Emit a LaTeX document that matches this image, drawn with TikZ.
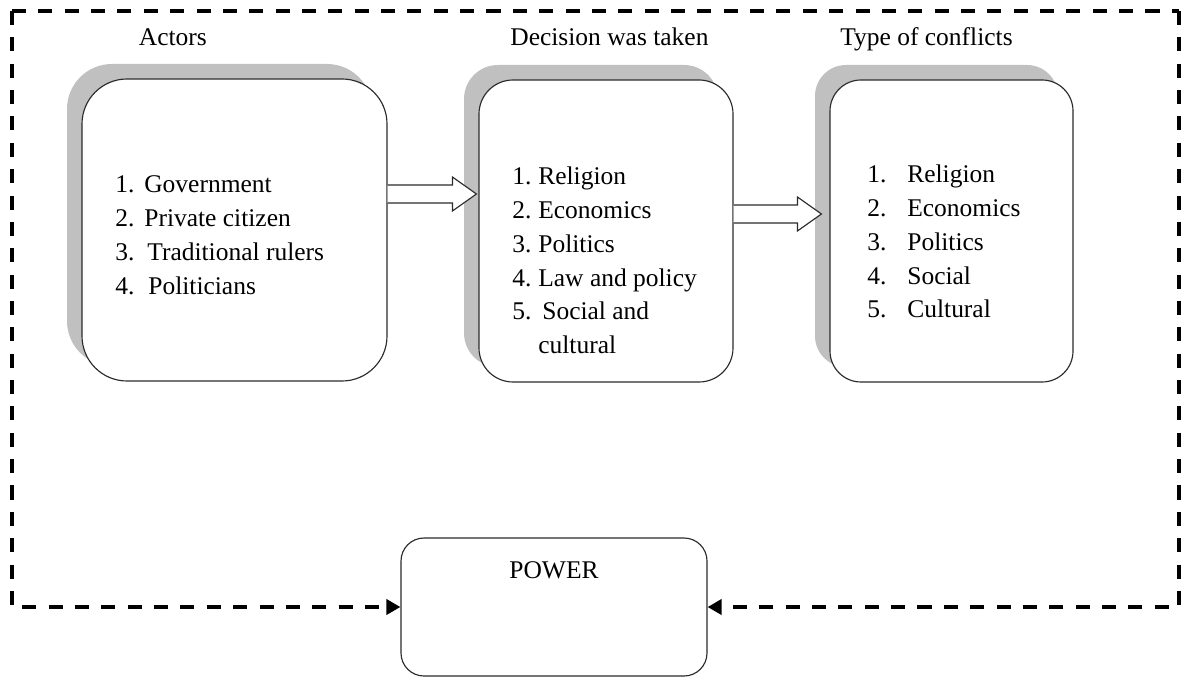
\documentclass[tikz,border=0pt]{standalone}
\usepackage{fontspec}
\setmainfont{Liberation Serif}
\usepackage{xcolor}
\definecolor{traitBoite}{HTML}{2B2B2B}
\definecolor{ombreBoite}{HTML}{C0C0C0}
\usetikzlibrary{arrows.meta, positioning, calc, shadows}

%% number of a list item, set in a column of fixed width
\newcommand{\rang}[2]{\makebox[#1][l]{#2}}
%% hollow block arrow between two coordinates
\newcommand{\flecheCreuse}[2]{%
  \draw[flecheBloc] ($(#1)+(0,0.18)$) -- ($(#2)+(-0.48,0.18)$) -- ++(0,0.16)
    -- (#2) -- ($(#2)+(-0.48,-0.34)$) -- ++(0,0.16) -- ($(#1)+(0,-0.18)$);}

\tikzset{
  %% ── Boxes ──
  boite/.style      = {draw=traitBoite, line width=0.65pt, fill=white,
                       inner sep=0pt},
  boiteOmbre/.style = {boite, drop shadow={shadow xshift=-0.3cm,
                       shadow yshift=0.3cm, fill=ombreBoite, opacity=1}},
  %% ── Arrows ──
  flecheBloc/.style = {draw=traitBoite, line width=0.65pt, fill=white,
                       line join=miter},
  cadre/.style      = {draw=black, line width=2.2pt,
                       dash pattern=on 8pt off 7pt},
  cadreFleche/.style = {cadre, -{Triangle[length=2.8mm, width=3.0mm]}},
  %% ── Text ──
  texte/.style      = {font=\fontsize{14.5}{19.2}\selectfont, inner sep=0pt},
  titre/.style      = {texte, anchor=base west},
  liste/.style      = {texte, anchor=base west},
}

\begin{document}
\begin{tikzpicture}[x=1cm, y=1cm]
\useasboundingbox (0,0) rectangle (23.68,13.56);

\node[boiteOmbre, rounded corners=0.9cm, minimum width=6.10cm,
      minimum height=6.04cm] (acteurs) at (4.69, 8.96) {};
\node[boiteOmbre, rounded corners=0.68cm, minimum width=5.08cm,
      minimum height=6.04cm] (decision) at (12.12, 8.94) {};
\node[boiteOmbre, rounded corners=0.62cm, minimum width=4.86cm,
      minimum height=6.04cm] (conflits) at (19.03, 8.94) {};
\node[boite, rounded corners=0.46cm, minimum width=6.12cm,
      minimum height=2.76cm] (power) at (11.08, 1.42) {};

\node[titre] (titreActeurs)  at (2.77, 12.64) {Actors};
\node[titre] (titreDecision) at (10.20, 12.64) {Decision was taken};
\node[titre] (titreConflits) at (16.80, 12.64) {Type of conflicts};
\node[texte, anchor=base] (titrePower) at (11.08, 2.00) {POWER};

\node[liste] (listeActeurs) at (2.30, 9.70) {\begin{tabular}[t]{@{}l@{}}
  \rang{0.58cm}{1.}Government\\
  \rang{0.58cm}{2.}Private citizen\\
  \rang{0.64cm}{3.}Traditional rulers\\
  \rang{0.66cm}{4.}Politicians
\end{tabular}};
\node[liste] (listeDecision) at (10.24, 9.86) {\begin{tabular}[t]{@{}l@{}}
  \rang{0.52cm}{1.}Religion\\
  \rang{0.52cm}{2.}Economics\\
  \rang{0.52cm}{3.}Politics\\
  \rang{0.52cm}{4.}Law and policy\\
  \rang{0.60cm}{5.}Social and\\
  \rang{0.52cm}{}cultural
\end{tabular}};
\node[liste] (listeConflits) at (17.34, 9.90) {\begin{tabular}[t]{@{}l@{}}
  \rang{0.80cm}{1.}Religion\\
  \rang{0.80cm}{2.}Economics\\
  \rang{0.80cm}{3.}Politics\\
  \rang{0.80cm}{4.}Social\\
  \rang{0.80cm}{5.}Cultural
\end{tabular}};

% block arrows, each a little above the box centres
\coordinate (f1a) at ($(acteurs.east)+(0,0.72)$);
\coordinate (f1b) at ($(decision.west |- f1a)+(-0.04,0)$);
\coordinate (f2a) at ($(decision.east)+(0,0.34)$);
\coordinate (f2b) at ($(conflits.west |- f2a)+(-0.16,0)$);
\flecheCreuse{f1a}{f1b}
\flecheCreuse{f2a}{f2b}

% dashed loop back into POWER
\coordinate (cadreHG) at (0.24, 13.34);
\coordinate (cadreHD) at (23.58, 13.34);
\coordinate (cadreBG) at (0.24, 1.42);
\coordinate (cadreBD) at (23.58, 1.42);
\draw[cadre] (cadreHG) -- (cadreHD);
\draw[cadreFleche] (cadreHG) -- (cadreBG) -- (power.west);
\draw[cadreFleche] (cadreHD) -- (cadreBD) -- (power.east);

\end{tikzpicture}
\end{document}
